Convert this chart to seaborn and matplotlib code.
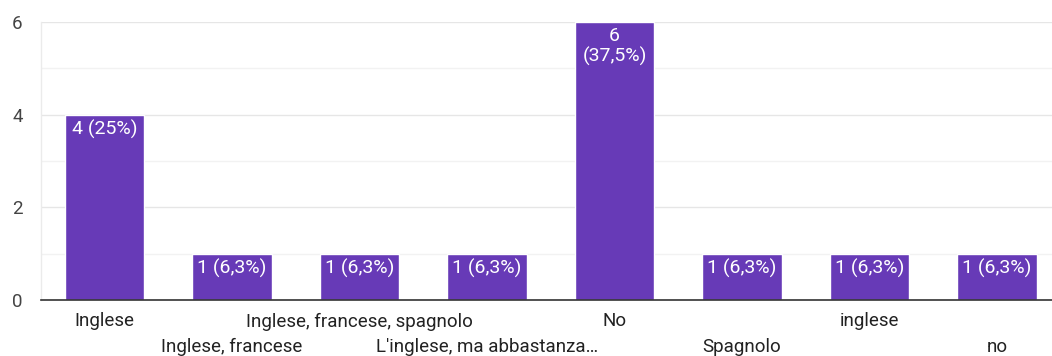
import matplotlib
matplotlib.use("Agg")
import matplotlib.pyplot as plt
import seaborn as sns
import pandas as pd
from matplotlib.ticker import MultipleLocator

categories = ["Inglese", "Inglese, francese", "Inglese, francese, spagnolo",
              "L'inglese, ma abbastanza…", "No", "Spagnolo", "inglese", "no"]
values = [4, 1, 1, 1, 6, 1, 1, 1]
bar_labels = ["4 (25%)", "1 (6,3%)", "1 (6,3%)", "1 (6,3%)", "6\n(37,5%)",
              "1 (6,3%)", "1 (6,3%)", "1 (6,3%)"]
yticks = [0, 2, 4, 6]

sns.set_theme(style="white")
plt.rcParams['font.family'] = ['Roboto', 'DejaVu Sans']

FS = 13.5
FS_BAR = 14

fig = plt.figure(figsize=(10.52, 3.56), dpi=100)
W, H = 1052, 356
ax = fig.add_axes([40.75 / W, 56 / H, 1020 / W, 278 / H])

df = pd.DataFrame({"cat": categories, "val": values})
sns.barplot(data=df, x="cat", y="val", color="#673ab7", saturation=1,
            width=0.62, ax=ax, zorder=3)

ax.set_xlim(-0.5, 7.5)
ax.set_ylim(0, 6)
ax.set_yticks(yticks)
ax.yaxis.set_minor_locator(MultipleLocator(1))
ax.grid(True, which="major", axis="y", color="#e6e6e6", linewidth=1, zorder=0)
ax.grid(True, which="minor", axis="y", color="#f2f2f2", linewidth=1, zorder=0)
ax.set_axisbelow(True)

for s in ["top", "right"]:
    ax.spines[s].set_visible(False)
ax.spines["left"].set_color("#ebebeb")
ax.spines["left"].set_linewidth(1)
ax.spines["bottom"].set_color("#333333")
ax.spines["bottom"].set_linewidth(1.2)
ax.spines["bottom"].set_zorder(5)

ax.tick_params(axis="y", which="both", length=0, pad=13, labelsize=FS,
               labelcolor="#444444")

# alternate category labels on two rows: even -> major ticks, odd -> minor ticks
even = list(range(0, len(categories), 2))
odd = list(range(1, len(categories), 2))
ax.set_xticks(even)
ax.set_xticklabels([categories[i] for i in even])
ax.set_xticks(odd, minor=True)
ax.set_xticklabels([categories[i] for i in odd], minor=True)
ax.tick_params(axis="x", which="major", length=0, pad=9, labelsize=FS,
               labelcolor="#222222")
ax.tick_params(axis="x", which="minor", length=0, pad=27, labelsize=FS,
               labelcolor="#222222")
ax.set_xlabel("")
ax.set_ylabel("")

for i, (v, lab) in enumerate(zip(values, bar_labels)):
    ax.annotate(lab, xy=(i, v), xytext=(0, -3.5), textcoords="offset points",
                ha="center", va="top", color="white", fontsize=FS_BAR,
                linespacing=1.15, zorder=6)

fig.savefig("out.png", dpi=100)
